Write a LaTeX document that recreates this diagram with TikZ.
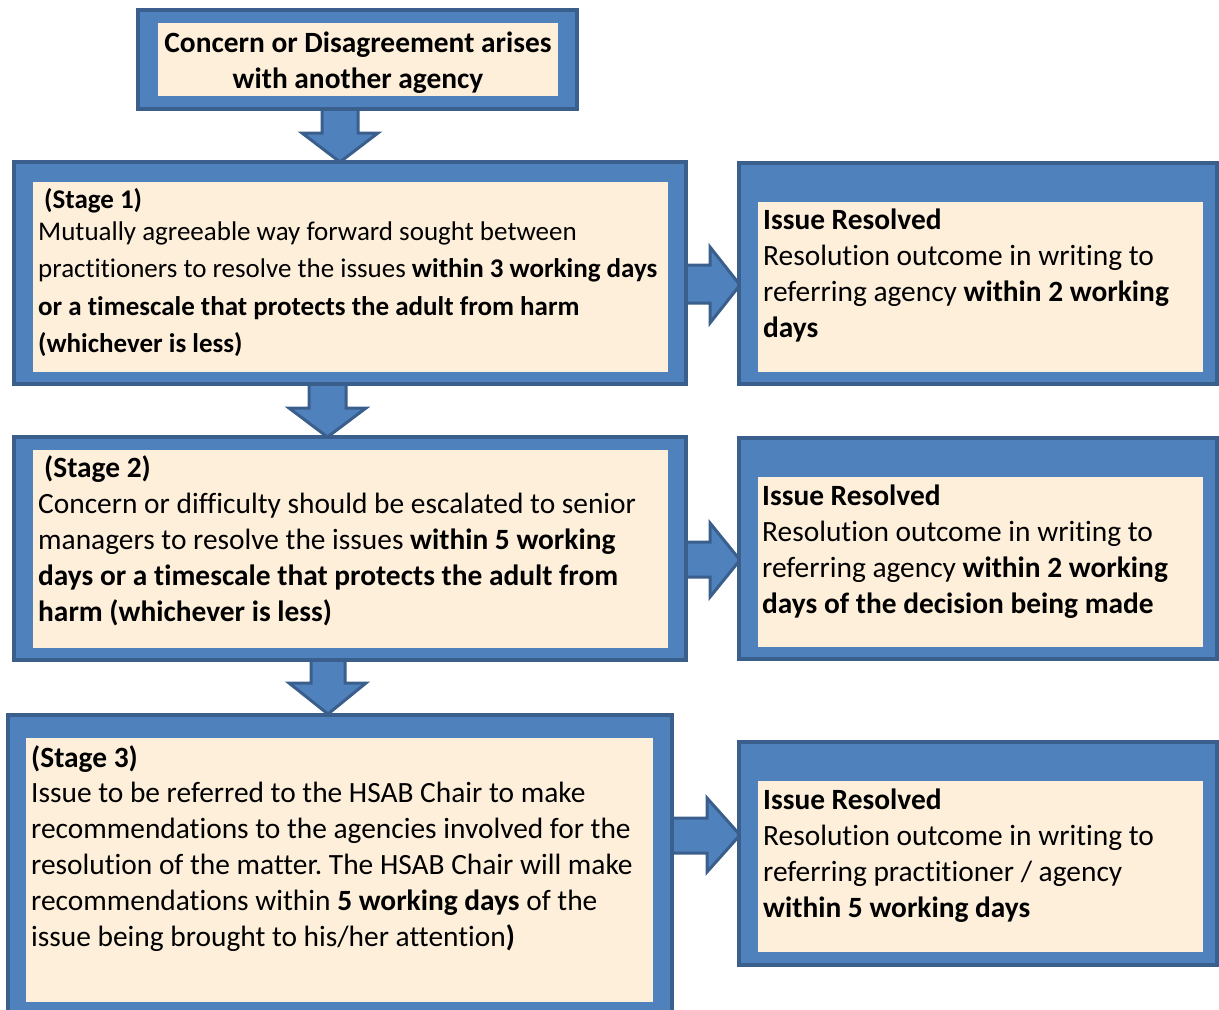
\documentclass[tikz,border=0pt]{standalone}
\usepackage{fontspec}
\setmainfont[Ligatures={NoCommon,NoContextual}]{Carlito}
\usetikzlibrary{fit}
\frenchspacing
\definecolor{midblue}{HTML}{4F81BD}
\definecolor{dkblue}{HTML}{3A5F8C}
\definecolor{cream}{HTML}{FEEFDB}
\tikzset{
  outerbox/.style={draw=dkblue, line width=3.5pt, fill=midblue, inner sep=0pt, outer sep=0pt},
  innerbox/.style={fill=cream, inner sep=0pt, outer sep=0pt},
  txt/.style={anchor=base west, inner sep=0pt, align=left, font=\fontsize{29.4}{36}\selectfont},
  ctxt/.style={anchor=base, inner sep=0pt, align=center, font=\fontsize{29.4}{35.5}\selectfont},
  barrow/.style={draw=dkblue, line width=3pt, fill=midblue, line join=miter},
}
\begin{document}
\begin{tikzpicture}[x=1pt,y=-1pt]
\useasboundingbox (0,0) rectangle (1219,1010);
\clip (0,0) rectangle (1219,1010);
% block arrows
\draw[barrow] (322,105) -- (322,133) -- (302,133) -- (340,162) -- (378,133) -- (358,133) -- (358,105);
\draw[barrow] (309,380) -- (309,408) -- (289,408) -- (327.5,437) -- (366,408) -- (346,408) -- (346,380);
\draw[barrow] (311,656) -- (311,683) -- (289,683) -- (328,714) -- (366,683) -- (345,683) -- (345,656);
\draw[barrow] (682,265) -- (710,265) -- (710,247) -- (740,285) -- (710,323) -- (710,303) -- (682,303);
\draw[barrow] (682,542) -- (710,542) -- (710,523) -- (740,560) -- (710,597) -- (710,577) -- (682,577);
\draw[barrow] (668,818) -- (707,818) -- (707,798) -- (740,835) -- (707,872) -- (707,853) -- (668,853);
% boxes
\node[outerbox, fit={(138,10) (577,109)}] (top) {};
\node[innerbox, fit={(158,23) (558,96)}] (topin) {};
\node[outerbox, fit={(14,162) (686,384)}] (s1) {};
\node[innerbox, fit={(33,182) (668,372)}] (s1in) {};
\node[outerbox, fit={(739,163) (1217,384)}] (r1) {};
\node[innerbox, fit={(758,202) (1203,372)}] (r1in) {};
\node[outerbox, fit={(14,437) (686,660)}] (s2) {};
\node[innerbox, fit={(33,450) (668,648)}] (s2in) {};
\node[outerbox, fit={(739,438) (1217,659)}] (r2) {};
\node[innerbox, fit={(758,477) (1203,647)}] (r2in) {};
\node[outerbox, fit={(8,715) (672,1030)}] (s3) {};
\node[innerbox, fit={(26,738) (653,1002)}] (s3in) {};
\node[outerbox, fit={(739,742) (1217,965)}] (r3) {};
\node[innerbox, fit={(758,781) (1203,952)}] (r3in) {};
% texts (base anchor = baseline of the last line)
\node[ctxt] (ttop) at (358,88) {\textbf{Concern or Disagreement arises}\\\textbf{with another agency}};
\node[txt, font=\fontsize{27}{37.5}\selectfont] (t1a) at (44,208) {\textbf{(Stage 1)}};
\node[txt, font=\fontsize{27}{37.5}\selectfont] (t1b) at (38,352.5) {Mutually agreeable way forward sought between\\practitioners to resolve the issues \textbf{within 3 working days}\\\textbf{or a timescale that protects the adult from harm}\\\textbf{(whichever is less)}};
\node[txt] (tr1) at (763,337) {\textbf{Issue Resolved}\\Resolution outcome in writing to\\referring agency \textbf{within 2 working}\\\textbf{days}};
\node[txt] (t2) at (38,621) {\hspace*{6pt}\textbf{(Stage 2)}\\Concern or difficulty should be escalated to senior\\managers to resolve the issues \textbf{within 5 working}\\\textbf{days or a timescale that protects the adult from}\\\textbf{harm (whichever is less)}};
\node[txt] (tr2) at (762,613) {\textbf{Issue Resolved}\\Resolution outcome in writing to\\referring agency \textbf{within 2 working}\\\textbf{days of the decision being made}};
\node[txt, font=\fontsize{29.4}{35.8}\selectfont] (t3) at (31,946) {\textbf{(Stage 3)}\\Issue to be referred to the HSAB Chair to make\\recommendations to the agencies involved for the\\resolution of the matter. The HSAB Chair will make\\recommendations within \textbf{5 working days} of the\\issue being brought to his/her attention\textbf{)}};
\node[txt] (tr3) at (763,917) {\textbf{Issue Resolved}\\Resolution outcome in writing to\\referring practitioner / agency\\\textbf{within 5 working days}};
\end{tikzpicture}
\end{document}
